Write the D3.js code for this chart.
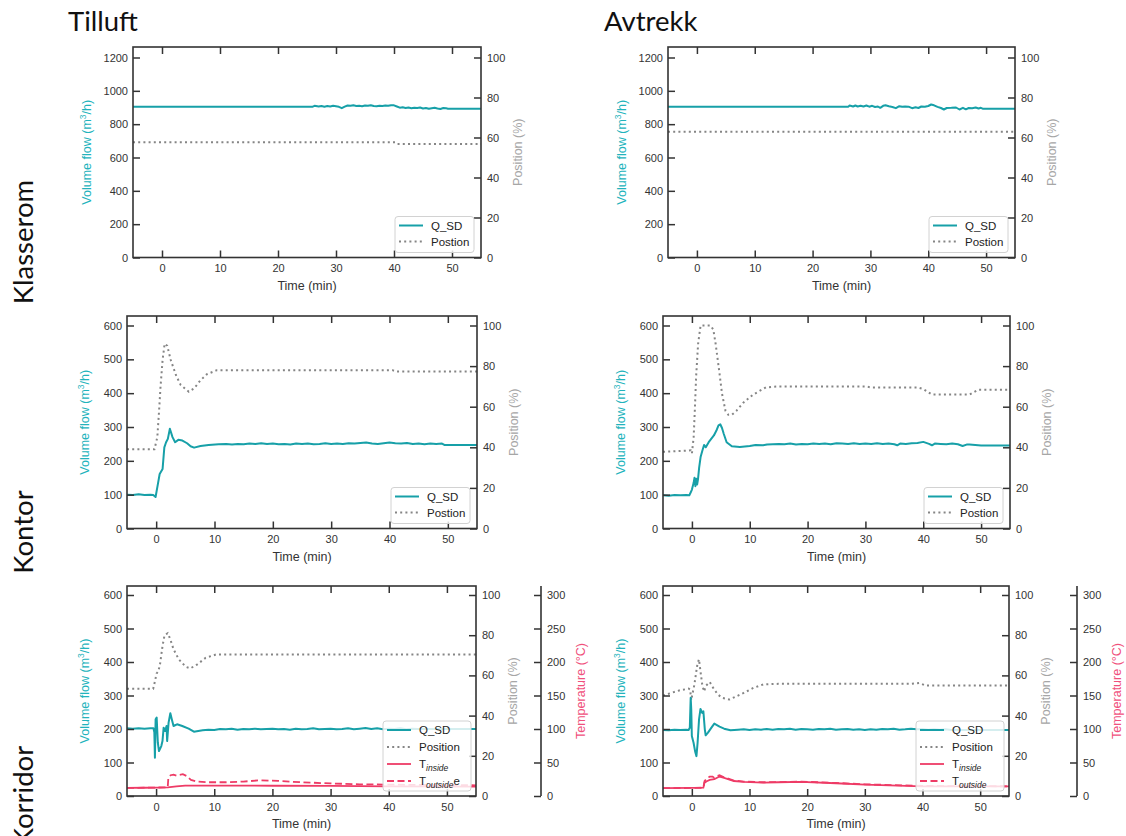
<!DOCTYPE html>
<html><head><meta charset="utf-8">
<script src="https://cdn.jsdelivr.net/npm/d3@7"></script>
<style>body{margin:0;background:#fff}</style>
</head><body><svg id="c" width="1126" height="836"></svg>
<script>
// ---------------- DATA ----------------
const columnTitles = ["Tilluft", "Avtrekk"];
const rowTitles = ["Klasserom", "Kontor", "Korridor"];
const xTicks = [0, 10, 20, 30, 40, 50];
const qTicksTop = [0, 200, 400, 600, 800, 1000, 1200];
const qTicksLow = [0, 100, 200, 300, 400, 500, 600];
const posTicks = [0, 20, 40, 60, 80, 100];
const tempTicks = [0, 50, 100, 150, 200, 250, 300];
const legendTop = ["Q_SD", "Postion"];
const legendKorrTil = ["Q_SD", "Position", "T|inside", "T|outside|e"];
const legendKorrAvt = ["Q_SD", "Position", "T|inside", "T|outside"];

// Tilluft / Klasserom  [time min, value]
const qTilKlasse = [[-5,905],[26,905],[26.3,910],[27,906],[27.5,909],[28,905],[28.5,909],[29,906],[29.5,910],[30,907],[30.5,904],[31,896],[31.5,905],[32,912],[32.5,910],[33,913],[33.5,909],[34,911],[34.5,908],[35,912],[35.5,910],[36,914],[36.5,909],[37,908],[37.5,911],[38,909],[38.5,912],[39,910],[39.5,914],[40,913],[40.5,906],[41,899],[41.5,901],[42,897],[42.5,900],[43,896],[43.5,899],[44,897],[44.5,900],[45,894],[45.5,897],[46,892],[46.5,896],[47,898],[47.5,894],[48,891],[48.5,897],[49,895],[49.3,893],[55,893]];
const pTilKlasse = [[-5,57.6],[40.3,57.6],[40.6,56.8],[55,56.8]];
// Avtrekk / Klasserom
const qAvtKlasse = [[-5,905],[26.2,905],[26.4,912],[27,906],[27.4,912],[27.8,906],[28.3,911],[28.8,906],[29.3,912],[29.8,905],[30.3,910],[30.8,903],[31.3,906],[31.7,898],[32.2,910],[32.6,913],[33.2,907],[33.8,903],[34.4,896],[35,908],[35.5,904],[36,906],[36.6,905],[37.2,896],[37.8,901],[38.3,897],[38.8,906],[39.4,904],[40,909],[40.5,918],[41,913],[41.6,904],[42.2,897],[42.7,888],[43.2,897],[44,898],[44.8,900],[45.4,888],[46,898],[46.5,889],[47,897],[47.6,895],[48.2,900],[48.7,894],[49.1,898],[49.4,893],[55,893]];
const pAvtKlasse = [[-5,62.9],[55,62.9]];
// Tilluft / Kontor
const qTilKontor = [[-5,100],[-4,99],[-3,101],[-2,99],[-1,100],[-0.5,99],[-0.1,93],[0.3,132],[0.6,161],[1.1,176],[1.4,240],[1.7,255],[2.0,265],[2.35,295],[2.8,270],[3.25,255],[3.8,262],[4.5,260],[5.3,252],[5.9,243],[6.5,239],[7.6,244],[9,247],[10.7,249],[12,250],[13,248],[14,250],[15,249],[16,251],[17,250],[18,252],[19,250],[20,251],[21,249],[22,250],[23,248],[24,251],[25,250],[26,251],[27,249],[28,250],[29,252],[30,250],[31,251],[32,250],[33,252],[34,251],[35,253],[36,254],[37,251],[38,250],[39,252],[40,254],[41,252],[42,251],[43,253],[44,250],[45,251],[46,249],[47,251],[48,250],[49,251],[49.4,247],[55,247]];
const pTilKontor = [[-5,39],[-0.3,39],[0.2,45],[0.5,58],[0.75,70],[1.1,83],[1.45,91],[1.9,90],[2.5,83],[3.4,75.5],[4.2,70.7],[5.6,67.4],[6.5,69],[7.6,73],[8.7,76],[10.4,78],[40.5,78],[41.2,77.3],[55,77.3]];
// Avtrekk / Kontor
const qAvtKontor = [[-5,98],[-4,97],[-3,99],[-2,98],[-1,99],[-0.45,98],[-0.2,107],[0,115],[0.3,135],[0.45,150],[0.6,125],[0.75,147],[0.9,130],[1.05,145],[1.25,180],[1.5,211],[1.8,230],[2.1,247],[2.4,240],[2.9,255],[3.8,275],[4.3,292],[4.6,305],[4.9,308],[5.2,297],[5.5,280],[6.0,255],[6.9,243],[8.3,241],[10,244],[11,247],[12.3,246],[13,248],[14,249],[15,250],[16,249],[17,251],[18,248],[19,250],[20,249],[21,251],[22,250],[23,251],[24,249],[25,252],[26,251],[27,250],[28,252],[29,250],[30,251],[31,250],[32,252],[33,250],[34,251],[35,249],[35.5,246],[36,251],[37,250],[38,252],[39,253],[40,256],[41,250],[41.5,246],[42,251],[43,250],[44,249],[45,251],[46,249],[46.8,244],[47.5,248],[48,248],[49,247],[50,245],[55,245]];
const pAvtKontor = [[-5,37.8],[-1,38.3],[-0.2,38.5],[0,37],[0.3,45],[0.5,58],[0.73,75],[1.07,91],[1.5,100],[3.2,100],[3.7,98],[4.1,91],[4.7,78],[5.2,66.5],[5.8,58],[6.3,56],[6.9,56],[7.7,58],[8.9,62],[10.6,66],[12.8,69.5],[15,70],[30,70],[31,69.5],[39,69.5],[40,68.7],[41.5,66],[48,66],[49.5,68.3],[55,68.3]];
// Tilluft / Korridor
const qTilKorr = [[-5,202],[-4,201],[-3,202],[-2,201],[-1,202],[-0.45,202],[-0.3,190],[-0.2,114],[-0.08,229],[0.1,234],[0.3,159],[0.5,134],[0.9,149],[1.1,164],[1.3,204],[1.55,194],[1.8,209],[1.9,164],[2.15,219],[2.45,247],[2.7,229],[3.0,209],[3.6,214],[4.5,209],[5.6,201],[6.5,192],[8,196],[9,198],[10,197],[11,200],[12,199],[13,201],[14,198],[15,200],[16,199],[17,201],[18,199],[19,200],[20,201],[21,199],[22,200],[23,198],[24,201],[25,199],[26,200],[27,202],[28,199],[29,200],[30,201],[31,199],[32,200],[33,202],[34,199],[35,201],[36,203],[37,200],[38,202],[39,199],[40,201],[41,200],[42,202],[43,199],[44,201],[45,200],[55,200]];
const pTilKorr = [[-5,53.3],[-0.5,53.3],[-0.2,57],[0.1,61],[0.4,62],[0.7,66],[1.1,74.5],[1.45,80],[2.0,81],[2.44,78],[3.0,73],[3.9,68],[5.1,64.3],[5.9,63.5],[7.1,65.5],[8.5,68.7],[10.3,70.4],[55,70.4]];
const tInTilKorr = [[-5,12],[-2,12.3],[0,12.6],[2,13],[3.5,14.5],[5,15.5],[8,15.5],[20,15.3],[30,15],[40,14.5],[55,14]];
const tOutTilKorr = [[-5,12],[0,12.6],[2.0,13],[2.1,26],[2.5,31],[3.0,32],[3.5,30.5],[4.0,31.5],[4.6,32.5],[5.2,30],[6.0,24],[7,21.5],[9,20.5],[12,20.5],[15,21.5],[18,23.5],[21,22.5],[25,20.5],[30,18.8],[35,17.5],[40,17],[45,16.5],[55,16]];
// Avtrekk / Korridor
const qAvtKorr = [[-5,197],[-4,196],[-3,198],[-2,197],[-1,198],[-0.56,197],[-0.35,204],[-0.2,293],[-0.1,258],[0,179],[0.3,159],[0.56,134],[0.8,119],[1.0,159],[1.25,229],[1.5,260],[1.8,248],[2.0,253],[2.25,199],[2.4,181],[2.8,189],[3.4,204],[3.9,216],[4.8,207],[5.6,201],[6.7,196],[8,198],[9,199],[10,197],[11,199],[12,198],[13,200],[14,198],[15,200],[16,199],[17,201],[18,198],[19,200],[20,199],[21,198],[22,200],[23,199],[24,201],[25,198],[26,199],[27,200],[28,198],[29,199],[30,197],[31,199],[32,198],[33,200],[34,199],[35,201],[36,198],[37,199],[38,201],[39,199],[40,200],[41,198],[42,199],[43,198],[44,199],[45,197],[55,197]];
const pAvtKorr = [[-5,50],[-2.2,52.5],[-0.56,53.4],[-0.3,53],[-0.1,47.7],[0.2,52],[0.45,55.5],[0.7,60.5],[0.96,65.5],[1.24,68],[1.5,62],[1.8,55.5],[2.1,52],[2.5,55],[3.1,56.7],[3.7,53.8],[4.5,50.5],[5.3,48.8],[6.5,48],[7.6,49.4],[9,51.3],[10.7,53.8],[12.4,55.5],[15,55.8],[38,55.8],[39.5,56.2],[40.5,55],[55,55]];
const tInAvtKorr = [[-5,11.8],[0,12],[2.0,12.4],[2.2,20],[2.6,22],[3.1,24],[3.9,25],[4.8,29],[5.6,27],[7.3,22.4],[9,21],[12.4,20],[15,20.5],[19,21],[25,19],[30,17],[40,14.5],[55,14.3]];
const tOutAvtKorr = [[-5,11.8],[0,12],[2.0,12.4],[2.2,22],[2.6,26],[3.1,29],[3.6,29],[3.9,27],[4.5,30],[4.8,31],[5.6,28],[7.3,23],[9,21.5],[12.4,20.5],[15,20.8],[19,21.5],[25,19.5],[30,17.5],[40,15],[55,14.5]];

// ---------------- STYLE / LAYOUT ----------------
const FONT = '"Liberation Sans", Arial, Helvetica, sans-serif';
const TITLE_FONT = 'Lato, "Open Sans", sans-serif';
const C_Q = '#17a0a8', C_POS = '#858585', C_T = '#ee3b66';
const C_QLAB = '#22b3bc', C_PLAB = '#a6a6a6', C_TLAB = '#f0507c', AX = '#333';
const fmt = d3.format('d');

const panels = [
  {q:qTilKlasse, p:pTilKlasse, L:133, R:481, T:47, B:257.5, span:200, qMax:1200, qTicks:qTicksTop, legend:legendTop, volOff:46},
  {q:qAvtKlasse, p:pAvtKlasse, L:668, R:1015, T:47, B:257.5, span:200, qMax:1200, qTicks:qTicksTop, legend:legendTop, volOff:46},
  {q:qTilKontor, p:pTilKontor, L:127, R:477, T:316, B:528.5, span:203, qMax:600, qTicks:qTicksLow, legend:legendTop, volOff:42},
  {q:qAvtKontor, p:pAvtKontor, L:663, R:1010, T:316, B:528.5, span:203, qMax:600, qTicks:qTicksLow, legend:legendTop, volOff:42},
  {q:qTilKorr, p:pTilKorr, tin:tInTilKorr, tout:tOutTilKorr, L:127, R:476, T:586, B:796, span:201, qMax:600, qTicks:qTicksLow, legend:legendKorrTil, volOff:42, tempX:541},
  {q:qAvtKorr, p:pAvtKorr, tin:tInAvtKorr, tout:tOutAvtKorr, L:663, R:1009, T:586, B:796, span:201, qMax:600, qTicks:qTicksLow, legend:legendKorrAvt, volOff:42, tempX:1077}
];

const svg = d3.select('#c');

function styleAxis(sel) {
  sel.select('.domain').remove();
  sel.selectAll('line').attr('stroke', AX).attr('stroke-width', 1.5);
  sel.selectAll('text').attr('font-size', 11).attr('fill', '#333').attr('font-family', FONT);
}

function addLabel(textSel, spec) {
  const parts = spec.split('|');
  textSel.append('tspan').text(parts[0]);
  if (parts.length > 1) {
    textSel.append('tspan').attr('font-size', 8.5).attr('font-style', 'italic').attr('dy', 3).text(parts[1]);
  }
  if (parts.length > 2) {
    textSel.append('tspan').attr('dy', -3).text(parts[2]);
  }
}

panels.forEach((p, i) => {
  const g = svg.append('g');
  const x = d3.scaleLinear().domain([-5, 55]).range([p.L, p.R]);
  const yQ = d3.scaleLinear().domain([0, p.qMax]).range([p.B, p.B - p.span]);
  const yP = d3.scaleLinear().domain([0, 100]).range([p.B, p.B - p.span]);
  const yT = d3.scaleLinear().domain([0, 300]).range([p.B, p.B - p.span]);

  const clipId = 'clip' + i;
  g.append('clipPath').attr('id', clipId).append('rect')
    .attr('x', p.L).attr('y', p.T).attr('width', p.R - p.L).attr('height', p.B - p.T);
  const plot = g.append('g').attr('clip-path', `url(#${clipId})`);

  const lineQ = d3.line().x(d => x(d[0])).y(d => yQ(d[1]));
  const lineP = d3.line().x(d => x(d[0])).y(d => yP(d[1]));
  const lineT = d3.line().x(d => x(d[0])).y(d => yT(d[1]));

  plot.append('path').datum(p.p).attr('d', lineP).attr('fill', 'none')
    .attr('stroke', C_POS).attr('stroke-width', 2).attr('stroke-dasharray', '2,3.2');
  plot.append('path').datum(p.q).attr('d', lineQ).attr('fill', 'none')
    .attr('stroke', C_Q).attr('stroke-width', 2).attr('stroke-linejoin', 'round');
  if (p.tin) {
    plot.append('path').datum(p.tin).attr('d', lineT).attr('fill', 'none')
      .attr('stroke', C_T).attr('stroke-width', 1.8);
    plot.append('path').datum(p.tout).attr('d', lineT).attr('fill', 'none')
      .attr('stroke', C_T).attr('stroke-width', 1.8).attr('stroke-dasharray', '7,3.5');
  }

  // frame
  g.append('rect').attr('x', p.L).attr('y', p.T).attr('width', p.R - p.L).attr('height', p.B - p.T)
    .attr('fill', 'none').attr('stroke', AX).attr('stroke-width', 1.6);

  // axes
  g.append('g').attr('transform', `translate(0,${p.B})`)
    .call(d3.axisBottom(x).tickValues(xTicks).tickSize(-7).tickPadding(7).tickFormat(fmt)).call(styleAxis);
  g.append('g').attr('transform', `translate(0,${p.T})`)
    .call(d3.axisTop(x).tickValues(xTicks).tickSize(-7).tickFormat('')).call(styleAxis);
  g.append('g').attr('transform', `translate(${p.L},0)`)
    .call(d3.axisLeft(yQ).tickValues(p.qTicks).tickSize(-7).tickPadding(5).tickFormat(fmt)).call(styleAxis);
  g.append('g').attr('transform', `translate(${p.R},0)`)
    .call(d3.axisRight(yP).tickValues(posTicks).tickSize(-7).tickPadding(6).tickFormat(fmt)).call(styleAxis);

  // axis labels
  const midY = (p.T + p.B) / 2;
  g.append('text').attr('transform', `translate(${(p.L + p.R) / 2},${p.B + 32})`)
    .attr('text-anchor', 'middle').attr('font-family', FONT).attr('font-size', 12.5).attr('fill', '#333')
    .text('Time (min)');
  const vl = g.append('text').attr('transform', `translate(${p.L - p.volOff},${midY}) rotate(-90)`)
    .attr('text-anchor', 'middle').attr('dominant-baseline', 'central')
    .attr('font-family', FONT).attr('font-size', 12.5).attr('fill', C_QLAB);
  vl.append('tspan').text('Volume flow (m');
  vl.append('tspan').attr('font-size', 8.5).attr('dy', -4).text('3');
  vl.append('tspan').attr('dy', 4).text('/h)');
  g.append('text').attr('transform', `translate(${p.R + 37},${midY}) rotate(-90)`)
    .attr('text-anchor', 'middle').attr('dominant-baseline', 'central')
    .attr('font-family', FONT).attr('font-size', 12.5).attr('fill', C_PLAB).text('Position (%)');

  if (p.tempX) {
    g.append('g').attr('transform', `translate(${p.tempX},0)`)
      .call(d3.axisRight(yT).tickValues(tempTicks).tickSize(-7).tickPadding(6).tickFormat(fmt)).call(styleAxis);
    g.append('line').attr('x1', p.tempX).attr('x2', p.tempX).attr('y1', p.T).attr('y2', p.B)
      .attr('stroke', AX).attr('stroke-width', 1.6);
    g.append('text').attr('transform', `translate(${p.tempX + 40},${midY}) rotate(-90)`)
      .attr('text-anchor', 'middle').attr('dominant-baseline', 'central')
      .attr('font-family', FONT).attr('font-size', 12.5).attr('fill', C_TLAB).text('Temperature (\u00B0C)');
  }

  // legend
  const n = p.legend.length;
  const w = n > 2 ? 88 : 79, h = n > 2 ? 70 : 36, step = n > 2 ? 17 : 16;
  const lx = p.R - (n > 2 ? 5 : 7) - w, ly = p.B - 5 - h;
  const lg = g.append('g');
  lg.append('rect').attr('x', lx).attr('y', ly).attr('width', w).attr('height', h).attr('rx', 3)
    .attr('fill', '#fff').attr('fill-opacity', 0.82).attr('stroke', '#d2d2d2').attr('stroke-width', 1);
  const styles = [
    {c: C_Q, dash: null, wd: 2},
    {c: C_POS, dash: '2,3.2', wd: 2},
    {c: C_T, dash: null, wd: 1.8},
    {c: C_T, dash: '7,3.5', wd: 1.8}
  ];
  p.legend.forEach((lab, k) => {
    const yy = ly + 9 + k * step;
    const st = styles[k];
    const ln = lg.append('line').attr('x1', lx + 4).attr('x2', lx + 28).attr('y1', yy).attr('y2', yy)
      .attr('stroke', st.c).attr('stroke-width', st.wd);
    if (st.dash) ln.attr('stroke-dasharray', st.dash);
    const t = lg.append('text').attr('x', lx + 36).attr('y', yy).attr('dy', '0.36em')
      .attr('font-family', FONT).attr('font-size', 11.5).attr('fill', '#222');
    addLabel(t, lab);
  });
});

// column titles
svg.append('text').attr('x', 68).attr('y', 31).attr('font-family', TITLE_FONT).attr('font-size', 27.5).attr('fill', '#111').text(columnTitles[0]);
svg.append('text').attr('x', 604).attr('y', 31).attr('font-family', TITLE_FONT).attr('font-size', 27.5).attr('fill', '#111').text(columnTitles[1]);
// row titles
const rowCenters = [242, 532, 796];
rowTitles.forEach((r, k) => {
  svg.append('text').attr('transform', `translate(33,${rowCenters[k]}) rotate(-90)`)
    .attr('text-anchor', 'middle').attr('font-family', TITLE_FONT).attr('font-size', 27.5).attr('fill', '#111').text(r);
});
</script>
</body></html>
